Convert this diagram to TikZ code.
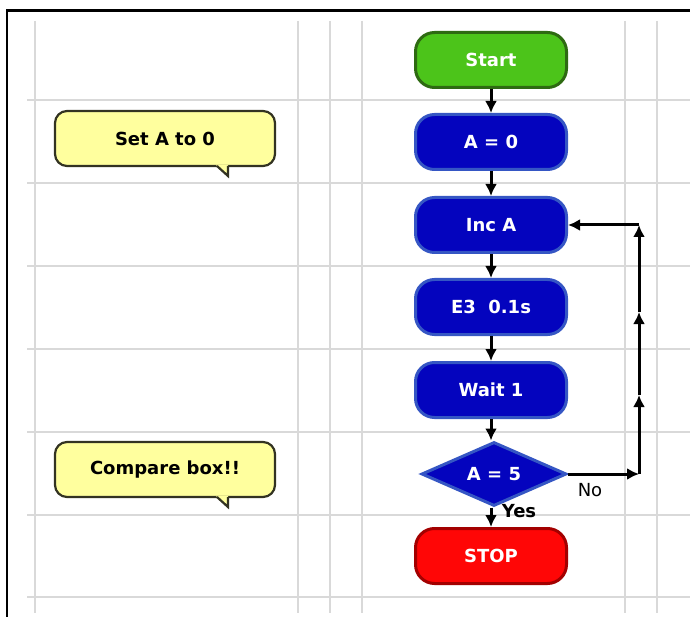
\documentclass[tikz,border=0pt]{standalone}
\usepackage{fontspec}
\setmainfont{DejaVu Sans}
\usetikzlibrary{shapes.geometric,arrows.meta}
\definecolor{gridgray}{HTML}{D9D9D9}
\definecolor{startgreen}{HTML}{4CC41A}
\definecolor{startedge}{HTML}{2E6A12}
\definecolor{procblue}{HTML}{0404BE}
\definecolor{procedge}{HTML}{3556C4}
\definecolor{stopred}{HTML}{FF0606}
\definecolor{stopedge}{HTML}{A30000}
\definecolor{notefill}{HTML}{FFFF9E}
\definecolor{noteedge}{HTML}{333322}

\begin{document}
\begin{tikzpicture}[
  x=1pt, y=-1pt,
  flowbox/.style={rounded corners=19pt,minimum width=151pt,minimum height=55pt,line width=3pt,text=white,font=\bfseries\fontsize{18}{21}\selectfont},
  procbox/.style={flowbox,fill=procblue,draw=procedge},
  startbox/.style={flowbox,fill=startgreen,draw=startedge},
  stopbox/.style={flowbox,fill=stopred,draw=stopedge},
  decision/.style={diamond,aspect=2.27,minimum width=145pt,minimum height=64pt,inner sep=0pt,fill=procblue,draw=procedge,line width=3pt,text=white,font=\bfseries\fontsize{18}{21}\selectfont},
  note/.style={rounded corners=12pt,minimum width=220pt,minimum height=55pt,fill=notefill,draw=noteedge,line width=2.2pt,font=\bfseries\fontsize{18}{21}\selectfont},
  flow/.style={line width=3pt,-{Latex[length=12pt,width=12pt]}},
  lbl/.style={font=\fontsize{18}{21}\selectfont}
]
  \useasboundingbox (0,0) rectangle (690,617);
  % grid
  \foreach \gx in {35,298,330,362,625,657}
    \draw[gridgray,line width=1.5pt] (\gx,21) -- (\gx,613);
  \foreach \gy in {100,183,266,349,432,515,597}
    \draw[gridgray,line width=1.5pt] (27,\gy) -- (690,\gy);
  \draw[line width=2.2pt] (7,617) -- (7,10.5) -- (690,10.5);
  % flowchart
  \node[startbox] (start) at (491,60) {Start};
  \node[procbox] (seta) at (491,142) {A = 0};
  \node[procbox] (inca) at (491,225) {Inc A};
  \node[procbox] (ethree) at (491,307) {E3~~0.1s};
  \node[procbox] (wait) at (491,390) {Wait 1};
  \node[decision] (cmp) at (494,474) {A = 5};
  \node[stopbox] (stop) at (491,556) {STOP};
  \draw[flow] (start) -- (seta);
  \draw[flow] (seta) -- (inca);
  \draw[flow] (inca) -- (ethree);
  \draw[flow] (ethree) -- (wait);
  \draw[flow] (wait) -- (cmp.north -| wait);
  \draw[flow] (cmp.south -| stop) -- (stop);
  % loop back
  \coordinate (c1) at (639,474);
  \coordinate (c2) at (639,395);
  \coordinate (c3) at (639,312);
  \coordinate (c4) at (639,225);
  \draw[flow] (cmp.east) -- (c1);
  \draw[flow] (c1) -- (c2);
  \draw[flow] (c2) -- (c3);
  \draw[flow] (c3) -- (c4);
  \draw[flow] (c4) -- (inca.east);
  \node[lbl] (no) at (590,490) {No};
  \node[lbl,font=\bfseries\fontsize{18}{21}\selectfont] (yes) at (519,511) {Yes};
  % notes
  \node[note] (notea) at (165,138.5) {Set A to 0};
  \node[note] (noteb) at (165,469.5) {Compare box!!};
  \fill[notefill] (216,165) -- (228,176) -- (228,165) -- cycle;
  \draw[noteedge,line width=2.2pt] (217,166) -- (228,176) -- (228,166);
  \fill[notefill] (216,496) -- (228,507) -- (228,496) -- cycle;
  \draw[noteedge,line width=2.2pt] (217,497) -- (228,507) -- (228,497);
\end{tikzpicture}
\end{document}
